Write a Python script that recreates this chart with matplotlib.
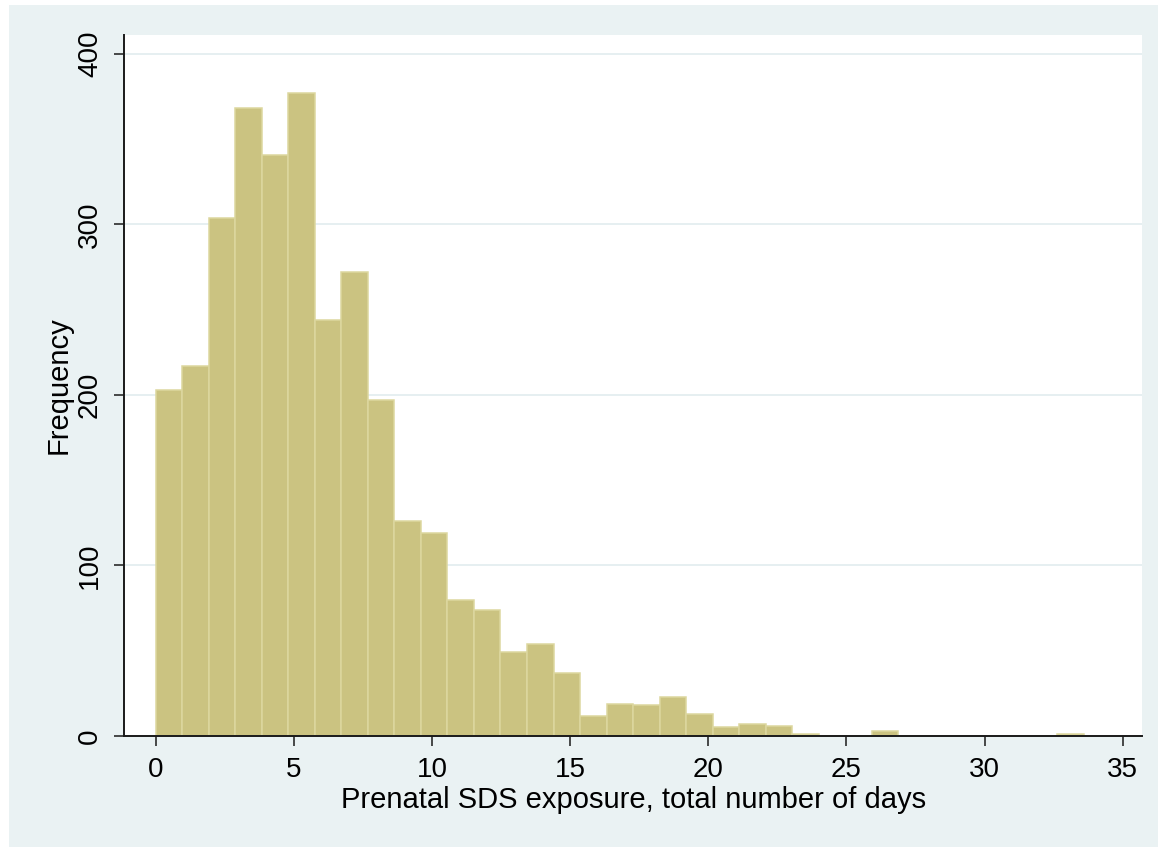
import numpy as np
import matplotlib
matplotlib.use("Agg")
import matplotlib.pyplot as plt
from matplotlib.patches import Rectangle

# histogram counts, 35 bins of width 0.96 days (range 0 to 33.6)
bin_width = 0.96
counts = [203, 217, 304, 368, 341, 377, 244, 272, 197, 126,
          119, 80, 74, 49, 54, 37, 12, 19, 18, 23,
          13, 5, 7, 6, 1, 0, 0, 3, 0, 0,
          0, 0, 0, 0, 1]
x_ticks = [0, 5, 10, 15, 20, 25, 30, 35]
y_ticks = [0, 100, 200, 300, 400]

plt.rcParams['font.family'] = ['Liberation Sans', 'DejaVu Sans']

W, H = 1158, 847
fig = plt.figure(figsize=(W / 100, H / 100), dpi=100, facecolor="white")

# stata-like outer background
fig.patches.append(Rectangle((9 / W, 0), 1 - 9 / W, (H - 5) / H,
                             transform=fig.transFigure, facecolor="#eaf2f3",
                             edgecolor="none", zorder=-10))

ax = fig.add_axes([124 / W, (H - 736) / H, (1142 - 124) / W, (736 - 35) / H])
ax.set_facecolor("white")

edges = np.arange(len(counts)) * bin_width
ax.bar(edges, counts, width=bin_width, align="edge",
       color="#cbc381", edgecolor="#dcd79f", linewidth=1.1, zorder=3)

ax.set_xlim(-1.147, 35.70)
ax.set_ylim(0, 411.1)
ax.set_xticks(x_ticks)
ax.set_yticks(y_ticks)

ax.yaxis.grid(True, color="#e6eff1", linewidth=1.4, zorder=0)
ax.set_axisbelow(True)

for s in ["top", "right"]:
    ax.spines[s].set_visible(False)
for s in ["left", "bottom"]:
    ax.spines[s].set_linewidth(1.4)
    ax.spines[s].set_color("#1a1a1a")
    ax.spines[s].set_zorder(5)

ax.tick_params(axis="both", direction="out", length=7.2, width=1.1,
               color="#1a1a1a", labelsize=20, pad=8)
ax.tick_params(axis="y", labelrotation=90)
for lab in ax.get_yticklabels():
    lab.set_va("center")

ax.set_xlabel("Prenatal SDS exposure, total number of days", fontsize=21)
ax.set_ylabel("Frequency", fontsize=21)
ax.xaxis.set_label_coords(0.501, -0.0913)
ax.xaxis.label.set_va("center")
ax.yaxis.set_label_coords(-0.0639, 0.5007)
ax.yaxis.label.set_va("center")

fig.savefig("out.png", dpi=100, facecolor=fig.get_facecolor())
